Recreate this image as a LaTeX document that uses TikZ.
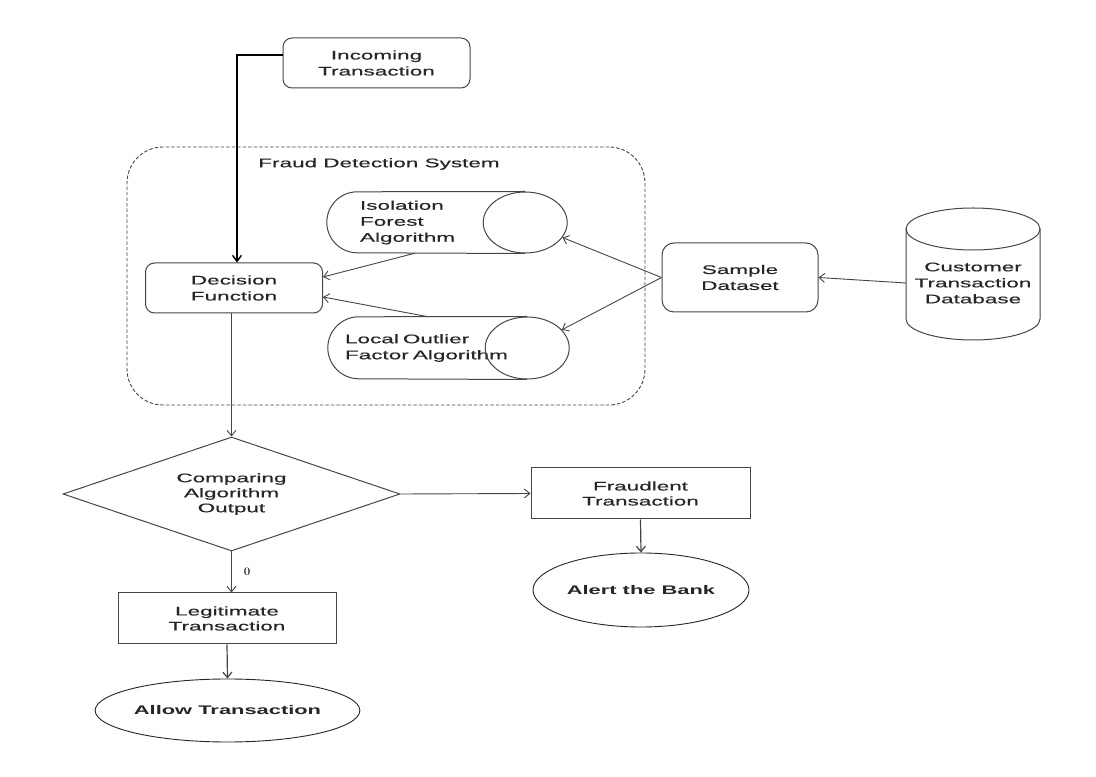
\documentclass[tikz,border=0pt]{standalone}
\usepackage{fontspec}
\usetikzlibrary{shapes.geometric,arrows.meta}
\newfontfamily\diagfont{Liberation Sans}[FakeStretch=1.8,FakeBold=0.5]
\newfontfamily\ovalfont{Liberation Sans Bold}[FakeStretch=1.75]
\definecolor{linegray}{HTML}{454545}

\begin{document}
\begin{tikzpicture}[x=1pt,y=1pt,
    every node/.style={font=\diagfont\fontsize{12.5}{16}\selectfont,text=black!85,align=center,inner sep=0pt},
    roundbox/.style={draw=linegray,line width=1pt,rounded corners=9pt},
    plainbox/.style={draw=linegray,line width=1pt},
    oval/.style={draw=black!85,line width=.9pt,ellipse,font=\ovalfont\fontsize{12.5}{15}\selectfont},
    algo/.style={align=left,minimum height=61pt},
    endcap/.style={draw=linegray,line width=1pt,ellipse,minimum width=84pt,minimum height=61pt},
    body/.style={draw=linegray,line width=1pt},
    flow/.style={draw=linegray,line width=.9pt,-{Straight Barb[length=5.5pt,width=9pt]}},
    feed/.style={draw=black,line width=1.4pt,-{Straight Barb[length=6pt,width=9pt]}}]
    \useasboundingbox (0,0) rectangle (1096,777);
    % boxes
    \node[roundbox,minimum width=187pt,minimum height=50pt] (incoming) at (376.5,714) {Incoming\\Transaction};
    \node[draw=linegray,line width=.9pt,dash pattern=on 3.5pt off 2pt,rounded corners=36pt,
      minimum width=518pt,minimum height=258pt] (fds) at (386,501) {};
    \node (fdslabel) at (379,613) {Fraud Detection System};
    \node[roundbox,minimum width=177pt,minimum height=50pt] (decision) at (234,489) {Decision\\Function};
    \node[algo,minimum width=240pt,text width=174pt] (iforest) at (447,554.5) {Isolation\\Forest\\Algorithm};
    \node[endcap] (ifcap) at ([xshift=-42pt]iforest.east) {};
    \draw[body] (ifcap.north) -- ([xshift=30.5pt]iforest.north west)
      arc[start angle=90,end angle=270,radius=30.5pt] -- (ifcap.south);
    \node[algo,minimum width=241pt,minimum height=62pt,text width=207pt] (lof) at (448.5,429) {Local Outlier\\Factor Algorithm};
    \node[endcap,minimum height=62pt] (lofcap) at ([xshift=-42pt]lof.east) {};
    \draw[body] (lofcap.north) -- ([xshift=31pt]lof.north west)
      arc[start angle=90,end angle=270,radius=31pt] -- (lofcap.south);
    \node[roundbox,rounded corners=12pt,minimum width=156pt,minimum height=69pt] (sample) at (740,499.5) {Sample\\Dataset};
    \node[minimum width=134pt] (db) at (973,494) {Customer\\Transaction\\Database};
    \draw[body] ([shift={(-67,54)}]db.center) -- ([shift={(-67,-36)}]db.center)
      arc[start angle=180,end angle=360,x radius=67pt,y radius=21pt] -- ([shift={(67,54)}]db.center);
    \draw[body] ([yshift=54pt]db.center) ellipse[x radius=67pt,y radius=21pt];
    \node[diamond,draw=linegray,line width=1pt,aspect=2.96,minimum width=337pt,minimum height=114pt,
      font=\diagfont\fontsize{12.5}{15}\selectfont] (compare) at (231.5,283) {Comparing\\Algorithm\\Output};
    \node[plainbox,minimum width=219pt,minimum height=51pt,font=\diagfont\fontsize{12.5}{15}\selectfont] (fraud) at (640.5,283.5) {Fraudlent\\Transaction};
    \node[oval,minimum width=216pt,minimum height=74pt] (alert) at (641,187) {Alert the Bank};
    \node[plainbox,minimum width=218pt,minimum height=51pt,font=\diagfont\fontsize{12.5}{15}\selectfont] (legit) at (227,158.5) {Legitimate\\Transaction};
    \node[oval,minimum width=261pt,minimum height=63pt] (allow) at (227.5,66.5) {Allow Transaction};
    \node[font=\bfseries\fontsize{11.5}{13}\selectfont] (zero) at (247,205) {0};
    % connectors
    \draw[feed] ([yshift=8pt]incoming.west) -| ([xshift=3pt]decision.north);
    \draw[flow] ([xshift=-32pt]iforest.south) -- ([yshift=11pt]decision.east);
    \draw[flow] ([xshift=-20pt]lof.north) -- ([yshift=-9pt]decision.east);
    \foreach \target in {ifcap,lofcap}
    \draw[flow] (sample.west) -- (\target);
    \draw[flow] (db.west) -- (sample.east);
    \draw[flow] (decision.south -| compare.north) -- (compare.north);
    \draw[flow] (compare.east) -- (fraud.west);
    \draw[flow,line width=1.2pt] (fraud.south) -- (alert.north);
    \draw[flow] (compare.south) -- (compare.south |- legit.north);
    \draw[flow,line width=1.2pt] (legit.south) -- (allow.north);
  \end{tikzpicture}
\end{document}
